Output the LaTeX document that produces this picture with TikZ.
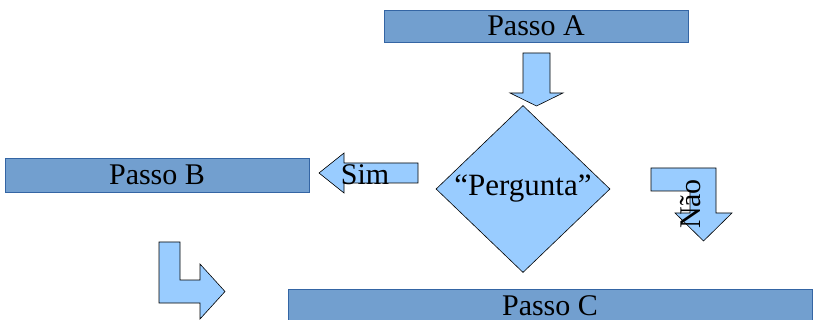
\documentclass[tikz,border=0pt]{standalone}
\usepackage{fontspec}
\setmainfont{Liberation Serif}
\usetikzlibrary{calc}
\usetikzlibrary{shapes.geometric}
\usepackage{xcolor}

\definecolor{passofill}{HTML}{729FCF}
\definecolor{passoline}{HTML}{3465A4}
\definecolor{setafill}{HTML}{99CCFF}

\begin{document}
\begin{tikzpicture}[x=1pt,y=-1pt,
  passo/.style={draw=passoline, fill=passofill, line width=0.8pt, inner sep=0pt, font=\fontsize{30}{36}\selectfont},
  seta/.style={draw=black, fill=setafill, line width=0.6pt, line join=miter},
  rotulo/.style={inner sep=0pt, font=\fontsize{30}{36}\selectfont}]
\useasboundingbox (0,0) rectangle (813,320);
\clip (0,0) rectangle (813,320);

\node[passo, minimum width=304, minimum height=32] (passoA) at (536,26) {Passo A};
\node[passo, minimum width=304, minimum height=34] (passoB) at (157,175) {Passo B};
\node[passo, minimum width=524, minimum height=34] (passoC) at (550,306) {Passo C};

\node[diamond, seta, aspect=1.05, inner sep=0pt, minimum width=174, minimum height=167,
  font=\fontsize{31}{36}\selectfont] (pergunta) at (523,189) {``Pergunta''};

\draw[seta] (523,53) -- (550,53) -- (550,93) -- (563,93) -- (536.5,106) -- (510,93) -- (523,93) -- cycle;

\draw[seta] (418,163) -- (344,163) -- (344,153) -- (319,173) -- (344,193) -- (344,183) -- (418,183) -- cycle;
\node[rotulo] (sim) at (365,175) {Sim};

\draw[seta] (651,168) -- (716,168) -- (716,213) -- (732,213) -- (703.5,241) -- (675,213) -- (690,213) -- (690,191) -- (651,191) -- cycle;
\node[rotulo, rotate=90] (nao) at (691,204) {Não};

\draw[seta] (159,242) -- (180,242) -- (180,280) -- (200,280) -- (200,264) -- (225,291.5) -- (200,319) -- (200,303) -- (159,303) -- cycle;
\end{tikzpicture}
\end{document}
